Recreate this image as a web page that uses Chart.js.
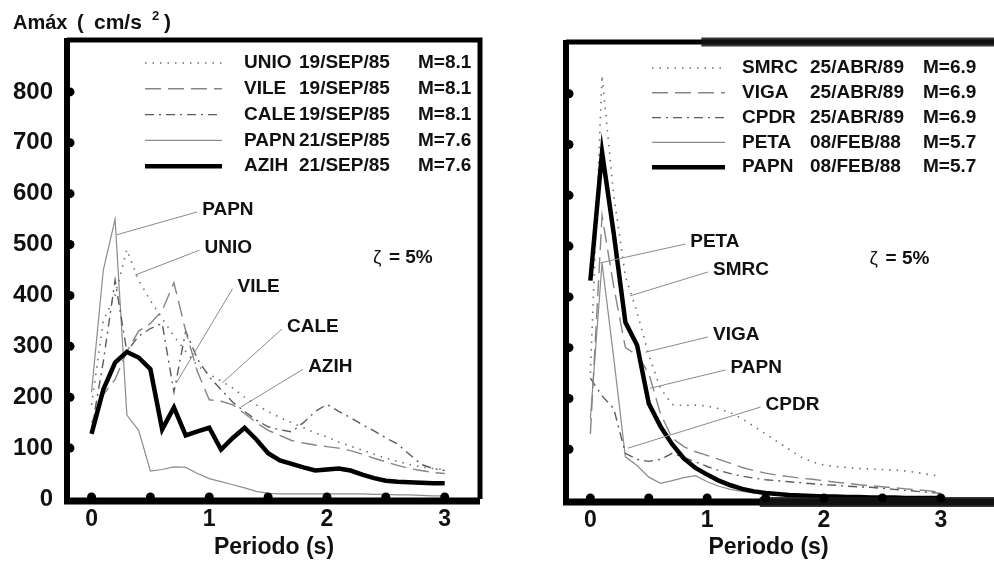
<!DOCTYPE html>
<html>
<head>
<meta charset="utf-8">
<script src="https://cdn.jsdelivr.net/npm/chart.js@4.4.0/dist/chart.umd.min.js"></script>
<style>
  body { margin: 0; background: #fff; overflow: hidden; width: 994px; height: 562px; position: relative; }
  #izq { position: absolute; left: 0; top: 0; }
  #der { position: absolute; left: 540px; top: 0; }
</style>
</head>
<body>
<canvas id="izq" width="540" height="562"></canvas>
<canvas id="der" width="454" height="562"></canvas>
<script>
// periodo (s), same for every spectrum
const periodos = [0, 0.1, 0.2, 0.3, 0.4, 0.5, 0.6, 0.7, 0.8, 0.9, 1.0, 1.1, 1.2, 1.3, 1.4, 1.5,
                  1.6, 1.7, 1.8, 1.9, 2.0, 2.1, 2.2, 2.3, 2.4, 2.5, 2.6, 2.7, 2.8, 2.9, 3.0];

// Amax (cm/s2), sismos de 1985
const unio = [185, 350, 400, 490, 430, 390, 355, 320, 290, 262, 245, 232, 218, 200, 185, 172,
              160, 150, 140, 130, 122, 112, 104, 96, 88, 80, 74, 68, 63, 60, 58];
const vile = [150, 205, 235, 290, 330, 345, 370, 425, 330, 250, 195, 192, 185, 168, 150, 135,
              125, 115, 110, 106, 103, 100, 95, 88, 80, 73, 66, 60, 56, 52, 50];
const cale = [135, 270, 430, 290, 320, 335, 345, 210, 330, 275, 240, 215, 190, 172, 155, 142,
              136, 132, 150, 172, 186, 172, 160, 146, 134, 120, 108, 88, 68, 60, 56];
const papn85 = [210, 450, 550, 165, 135, 55, 58, 63, 62, 50, 40, 34, 28, 22, 15, 11,
                10, 10, 10, 10, 10, 10, 10, 10, 9, 9, 8, 8, 7, 6, 6];
const azih = [128, 215, 268, 289, 278, 255, 137, 180, 125, 133, 140, 97, 120, 140, 117, 90,
              76, 69, 62, 56, 58, 60, 56, 48, 41, 36, 34, 33, 32, 31, 31];

// Amax (cm/s2), sismos de 1988-89
const smrc = [250, 836, 600, 440, 370, 285, 220, 188, 186, 187, 185, 180, 172, 160, 145, 130,
              115, 100, 85, 75, 69, 66, 64, 62, 61, 60, 59, 57, 54, 50, 47];
const viga = [130, 560, 420, 300, 285, 250, 170, 122, 105, 95, 88, 80, 72, 64, 58, 53,
              49, 46, 43, 41, 38, 35, 33, 30, 28, 26, 24, 22, 20, 18, 15];
const cpdr = [240, 205, 180, 92, 80, 76, 80, 92, 84, 75, 66, 58, 52, 47, 43, 40,
              38, 36, 34, 32, 30, 29, 27, 26, 25, 23, 21, 19, 17, 15, 13];
const peta = [160, 467, 280, 85, 68, 45, 33, 38, 44, 48, 36, 27, 21, 17, 14, 12,
              10, 9, 8, 8, 7, 7, 6, 6, 6, 5, 5, 5, 5, 4, 4];
const papn88 = [432, 685, 525, 350, 305, 190, 145, 110, 82, 63, 50, 38, 29, 22, 17, 14,
                12, 10, 9, 8, 7, 7, 6, 6, 5, 5, 5, 4, 4, 4, 4];

const estaciones85 = ['UNIO', 'VILE', 'CALE', 'PAPN', 'AZIH'];
const fechas85 = ['19/SEP/85', '19/SEP/85', '19/SEP/85', '21/SEP/85', '21/SEP/85'];
const magnitudes85 = ['M=8.1', 'M=8.1', 'M=8.1', 'M=7.6', 'M=7.6'];

const estaciones88 = ['SMRC', 'VIGA', 'CPDR', 'PETA', 'PAPN'];
const fechas88 = ['25/ABR/89', '25/ABR/89', '25/ABR/89', '08/FEB/88', '08/FEB/88'];
const magnitudes88 = ['M=6.9', 'M=6.9', 'M=6.9', 'M=5.7', 'M=5.7'];

const yTicks = [0, 100, 200, 300, 400, 500, 600, 700, 800];
const xTicks = [0, 0.5, 1, 1.5, 2, 2.5, 3];

// callouts: label, text anchor and tip, in (periodo, Amax)
const notas85 = ['PAPN', 'UNIO', 'VILE', 'CALE', 'AZIH'];
const notas85Texto = [[0.94, 568], [0.96, 493], [1.24, 417], [1.66, 338], [1.84, 259]];
const notas85Punta = [[0.21, 519], [0.37, 440], [0.72, 228], [1.11, 228], [1.27, 181]];
const notas88 = ['PETA', 'SMRC', 'VIGA', 'PAPN', 'CPDR'];
const notas88Texto = [[0.855, 508], [1.05, 453], [1.05, 325], [1.20, 260], [1.50, 187]];
const notas88Punta = [[0.085, 467], [0.34, 402], [0.47, 291], [0.51, 220], [0.32, 102]];

const FONT = '"Liberation Sans", Arial, Helvetica, sans-serif';

const estilos = [
  { borderColor: '#6e6e6e', borderWidth: 1.6, borderDash: [1.5, 6] },
  { borderColor: '#858585', borderWidth: 1.4, borderDash: [16, 7] },
  { borderColor: '#5c5c5c', borderWidth: 1.4, borderDash: [9, 5, 2, 5] },
  { borderColor: '#8c8c8c', borderWidth: 1.2, borderDash: [] },
  { borderColor: '#000000', borderWidth: 4.5, borderDash: [] }
];

function serie(nombre, valores, k) {
  return Object.assign({
    label: nombre,
    data: periodos.map((t, i) => ({ x: t, y: valores[i] })),
    pointRadius: 0,
    tension: 0,
    fill: false,
    order: k === 4 ? 0 : 1
  }, estilos[k]);
}

function marco(cfg) {
  return {
    id: 'marco',
    afterDraw(chart) {
      const ctx = chart.ctx, ca = chart.chartArea;
      const sx = chart.scales.x, sy = chart.scales.y;
      ctx.save();

      // callouts
      ctx.textBaseline = 'middle';
      ctx.textAlign = 'left';
      ctx.font = 'bold 19px ' + FONT;
      cfg.notas.forEach((n, i) => {
        const tx = sx.getPixelForValue(cfg.texto[i][0]);
        const ty = sy.getPixelForValue(cfg.texto[i][1]);
        const px = sx.getPixelForValue(cfg.punta[i][0]);
        const py = sy.getPixelForValue(cfg.punta[i][1]);
        ctx.strokeStyle = '#8a8a8a';
        ctx.lineWidth = 1;
        ctx.beginPath();
        ctx.moveTo(tx - 5, ty + 2);
        ctx.lineTo(px, py);
        ctx.stroke();
        ctx.fillStyle = '#111';
        ctx.fillText(n, tx, ty);
      });

      // zeta = 5%
      const zx = sx.getPixelForValue(2.39), zy = sy.getPixelForValue(475);
      ctx.font = '19px ' + FONT;
      ctx.fillText('ζ', zx, zy);
      ctx.font = 'bold 19px ' + FONT;
      ctx.fillText(' = 5%', zx + ctx.measureText('ζ').width + 2, zy);

      // legend
      chart.data.datasets.forEach((ds, i) => {
        const y = ca.top + cfg.ley.top + i * cfg.ley.dy;
        ctx.save();
        ctx.strokeStyle = ds.borderColor;
        ctx.lineWidth = ds.borderWidth;
        ctx.setLineDash(ds.borderDash);
        ctx.beginPath();
        ctx.moveTo(ca.left + cfg.ley.linea[0], y);
        ctx.lineTo(ca.left + cfg.ley.linea[1], y);
        ctx.stroke();
        ctx.restore();
        ctx.fillStyle = '#111';
        ctx.font = 'bold 19px ' + FONT;
        ctx.fillText(cfg.estaciones[i], ca.left + cfg.ley.cols[0], y);
        ctx.fillText(cfg.fechas[i], ca.left + cfg.ley.cols[1], y);
        ctx.fillText(cfg.magnitudes[i], ca.left + cfg.ley.cols[2], y);
      });

      // box
      ctx.strokeStyle = '#000';
      const derecha = cfg.abierto ? chart.width : ca.right;
      ctx.lineWidth = 5;
      ctx.beginPath();
      ctx.moveTo(ca.left - 1, ca.top - 1);
      ctx.lineTo(derecha, ca.top - 1);
      if (!cfg.abierto) ctx.lineTo(ca.right, ca.bottom);
      ctx.stroke();
      ctx.lineWidth = 6;
      ctx.beginPath();
      ctx.moveTo(ca.left - 1, ca.top - 3);
      ctx.lineTo(ca.left - 1, ca.bottom + 2);
      ctx.stroke();
      ctx.lineWidth = 7;
      ctx.beginPath();
      ctx.moveTo(ca.left - 4, ca.bottom + 2);
      ctx.lineTo(derecha, ca.bottom + 2);
      ctx.stroke();
      if (cfg.abierto) {
        // heavier, smudged border on the right side of the scan
        ctx.strokeStyle = 'rgba(20,20,20,0.85)';
        ctx.lineWidth = 9;
        ctx.beginPath();
        ctx.moveTo(sx.getPixelForValue(0.95), ca.top - 1);
        ctx.lineTo(chart.width, ca.top - 1);
        ctx.stroke();
        ctx.lineWidth = 10;
        ctx.beginPath();
        ctx.moveTo(sx.getPixelForValue(1.45), ca.bottom + 2);
        ctx.lineTo(chart.width, ca.bottom + 2);
        ctx.stroke();
      }

      // tick bullets
      ctx.fillStyle = '#000';
      yTicks.slice(1).forEach(v => {
        ctx.beginPath();
        ctx.arc(ca.left + 2, sy.getPixelForValue(v), 4.5, 0, Math.PI * 2);
        ctx.fill();
      });
      xTicks.forEach(v => {
        ctx.beginPath();
        ctx.arc(sx.getPixelForValue(v), ca.bottom - 2, 4.5, 0, Math.PI * 2);
        ctx.fill();
      });

      // y title (left panel only)
      if (cfg.titulo) {
        ctx.fillStyle = '#111';
        ctx.textBaseline = 'alphabetic';
        ctx.font = 'bold 20px ' + FONT;
        ctx.fillText('Amáx', 13, 29);
        ctx.fillText('(', 77, 29);
        ctx.font = 'bold 21px ' + FONT;
        ctx.fillText('cm/s', 94, 29);
        ctx.fillText(')', 164, 29);
        ctx.font = 'bold 13px ' + FONT;
        ctx.fillText('2', 152, 20);
      }
      ctx.restore();
    }
  };
}

function opciones(pad, anchoY, altoX, xMax, conEtiquetasY) {
  return {
    responsive: false,
    animation: false,
    events: [],
    layout: { padding: pad },
    plugins: { legend: { display: false }, tooltip: { enabled: false } },
    scales: {
      x: {
        type: 'linear', min: -0.2, max: xMax,
        grid: { display: false, drawTicks: false },
        border: { display: false },
        afterBuildTicks: s => { s.ticks = xTicks.map(v => ({ value: v })); },
        afterFit: s => { s.height = altoX; },
        ticks: {
          autoSkip: false, maxRotation: 0, padding: 7, color: '#111',
          font: { family: FONT, size: 23, weight: 'bold' },
          callback: v => Number.isInteger(v) ? String(v) : ''
        },
        title: {
          display: true, text: 'Periodo (s)', color: '#111',
          font: { family: FONT, size: 23, weight: 'bold' },
          padding: { top: 0, bottom: 1 }
        }
      },
      y: {
        min: 0, max: 900,
        grid: { display: false, drawTicks: false },
        border: { display: false },
        afterBuildTicks: s => { s.ticks = yTicks.map(v => ({ value: v })); },
        afterFit: s => { s.width = anchoY; },
        ticks: {
          display: conEtiquetasY, padding: 15, color: '#111',
          font: { family: FONT, size: 24, weight: 'bold' }
        }
      }
    }
  };
}

new Chart(document.getElementById('izq'), {
  type: 'line',
  data: {
    datasets: [
      serie('UNIO', unio, 0),
      serie('VILE', vile, 1),
      serie('CALE', cale, 2),
      serie('PAPN', papn85, 3),
      serie('AZIH', azih, 4)
    ]
  },
  options: opciones({ top: 41, right: 60, left: 0, bottom: 0 }, 68, 63, 3.3, true),
  plugins: [marco({
    notas: notas85, texto: notas85Texto, punta: notas85Punta,
    estaciones: estaciones85, fechas: fechas85, magnitudes: magnitudes85,
    ley: { top: 22, dy: 25.8, linea: [77, 154], cols: [176, 231, 350] },
    titulo: true, abierto: false
  })]
});

new Chart(document.getElementById('der'), {
  type: 'line',
  data: {
    datasets: [
      serie('SMRC', smrc, 0),
      serie('VIGA', viga, 1),
      serie('CPDR', cpdr, 2),
      serie('PETA', peta, 3),
      serie('PAPN', papn88, 4)
    ]
  },
  options: opciones({ top: 43, right: 24, left: 0, bottom: 0 }, 27, 62, 3.25, false),
  plugins: [marco({
    notas: notas88, texto: notas88Texto, punta: notas88Punta,
    estaciones: estaciones88, fechas: fechas88, magnitudes: magnitudes88,
    ley: { top: 25, dy: 24.8, linea: [85, 158], cols: [175, 243, 356] },
    titulo: false, abierto: true
  })]
});
</script>
</body>
</html>
